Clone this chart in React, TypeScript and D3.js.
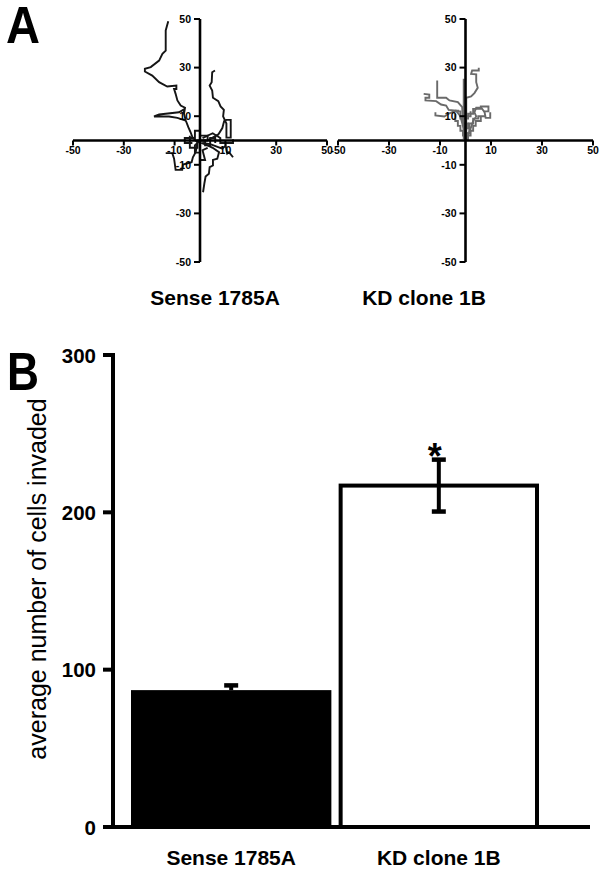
import React from "react";
import * as d3 from "d3";

// ---------- Panel A data (x, y in µm-like track units) ----------
const axisTicksA = [-50, -30, -10, 10, 30, 50];

const senseTracks: [number, number][][] = [
  [[-1.1, -0.7], [-3.0, 1.4], [-3.7, 3.4], [-4.6, 5.5], [-5.6, 8.2], [-6.3, 11.0], [-5.9, 13.5], [-7.6, 14.4], [-8.9, 16.5], [-9.6, 19.2], [-10.2, 21.2], [-9.3, 21.2], [-9.3, 22.6], [-12.9, 22.2], [-16.1, 24.0], [-18.8, 26.7], [-21.7, 28.4], [-21.7, 29.5], [-19.4, 30.2], [-16.1, 32.9], [-14.8, 35.7], [-13.5, 37.0], [-13.5, 45.3], [-12.5, 49.1]],
  [[-5.6, 8.2], [-8.9, 9.3], [-12.2, 9.9], [-18.1, 9.9], [-16.1, 10.7], [-8.3, 11.6], [-6.3, 12.8], [-6.3, 11.0]],
  [[1.0, 0.0], [2.9, 0.0], [4.8, 1.1], [7.2, 2.5], [8.8, 5.1], [9.5, 8.0], [10.4, 8.5], [12.1, 8.5], [12.1, 1.2], [10.4, 1.2], [10.4, 7.0], [9.1, 9.9], [9.4, 12.6], [8.1, 14.0], [7.2, 16.2], [5.1, 17.6], [4.8, 20.6], [3.8, 22.6], [4.6, 24.0], [4.8, 28.1], [5.9, 28.8]],
  [[-1.1, -1.4], [-1.7, -4.8], [-2.8, -6.9], [-3.3, -8.9], [-6.7, -9.9], [-7.0, -12.1], [-9.6, -12.1], [-10.2, -7.5], [-10.9, -5.2], [-13.5, -5.2]],
  [[0.5, -1.0], [3.0, -2.0], [5.0, -3.0], [7.5, -4.8], [6.8, -7.5], [5.1, -8.0], [5.1, -10.3], [3.8, -11.0], [3.5, -13.7], [2.2, -14.8], [1.7, -17.8], [1.2, -21.3]],
  [[1.0, -1.0], [4.0, -1.5], [8.8, -3.4], [10.1, -2.1], [10.7, -5.4], [11.4, -4.8], [13.0, -6.9]],
  [[-4, 2], [-4, -3], [-1, -3], [-1, 0], [2, 0], [2, -2], [4, -2], [4, 1], [6, 1], [6, -1]],
  [[-3, -1], [-6, -1], [-6, 1], [-2, 1], [-2, 4], [0, 4], [0, 2], [3, 2], [3, 0]],
  [[0, 0], [-2, -2], [-2, -5], [0, -5], [0, -8], [2, -8], [1, -4], [3, -3]],
  [[1, 1], [5, 3], [8, 1], [8, -1], [13, -1], [13, 0.5]],
];

const kdTracks: [number, number][][] = [
  [[0, 0], [0.3, 3], [0.3, 9.6], [0.3, 17.6], [2.2, 18.1], [3.5, 19.5], [4.8, 21.7], [4.2, 24.0], [4.2, 27.2], [2.2, 27.4], [2.6, 28.8], [5.2, 28.8], [5.2, 29.9]],
  [[-0.7, 0.5], [-0.7, 25.4]],
  [[-11.1, 24.7], [-11.1, 17.6], [-7.6, 17.6], [-6.3, 16.5], [-3.0, 15.8], [-1.3, 13.7], [-1.1, 9.6], [-0.5, 5], [0, 1]],
  [[-16.4, 19.2], [-14.2, 18.9], [-14.2, 17.6], [-15.7, 17.6], [-15.7, 16.5], [-11.5, 16.2], [-9.6, 14.8], [-7.6, 14.4], [-6.6, 12.6], [-3.7, 12.3], [-2, 10], [-1, 6], [0, 2]],
  [[-11.8, 11.6], [-11.8, 10.3], [-8.3, 9.9], [-6.3, 11.2], [-3.9, 12.3], [-2.5, 12.3]],
  [[9.7, 11.6], [9.7, 9.3], [7.9, 9.3], [7.5, 11.6], [6.2, 13.5], [4.2, 13.5], [3.5, 11.6], [4.2, 9.9], [3, 8], [2, 5], [1, 2], [0.5, 0]],
  [[-4, 11], [-4, 8], [-3, 8], [-3, 6], [-2, 6], [-2, 4], [-1, 4], [-1, 2], [0, 2], [0, 0]],
  [[6, 10], [6, 8], [4, 8], [4, 6], [3, 6], [3, 4], [2, 4], [2, 2], [1, 2], [1, 0]],
  [[2, 12], [2, 10], [-1, 10], [-1, 7], [1, 7], [1, 5], [-0.5, 5], [-0.5, 3], [0.5, 3], [0.5, 0.5]],
  [[8, 10], [5, 10], [5, 9], [3, 9], [3, 7], [1.5, 7], [1.5, 3], [0, 3]],
  [[-5, 12], [-2, 12], [-2, 9], [1, 9], [1, 11], [3, 11], [3, 13], [6, 13], [6, 14], [9, 14], [9, 12], [7, 12]],
];

const panelALabels = ["Sense 1785A", "KD clone 1B"];

// ---------- Panel B data ----------
const categories = ["Sense 1785A", "KD clone 1B"];
const means = [87, 217];
const sems = [3, 16.5];
const significant = [false, true];
const ticksB = [0, 100, 200, 300];
const yLabelB = "average number of cells invaded";

const FONT = "'Liberation Sans', Arial, Helvetica, sans-serif";

function TrackPlot({ x0, x1, tracks, color }: { x0: number; x1: number; tracks: [number, number][][]; color: string }) {
  const x = d3.scaleLinear().domain([-50, 50]).range([x0, x1]);
  const y = d3.scaleLinear().domain([-50, 50]).range([262, 19]);
  const line = d3.line<[number, number]>().x((d) => x(d[0])).y((d) => y(d[1]));
  return (
    <g>
      {tracks.map((t, i) => (
        <path key={i} d={line(t) || ""} fill="none" stroke={color} strokeWidth={1.9} strokeLinejoin="miter" />
      ))}
      {/* x axis */}
      <line x1={x(-50)} x2={x(50)} y1={y(0)} y2={y(0)} stroke="#000" strokeWidth={2.6} />
      {axisTicksA.map((t) => (
        <g key={"x" + t}>
          <line x1={x(t)} x2={x(t)} y1={y(0)} y2={y(0) + 5} stroke="#000" strokeWidth={2} />
          <text x={x(t)} y={y(0) + 13} fontSize={10.5} fontWeight="bold" textAnchor="middle" fontFamily={FONT}>
            {t}
          </text>
        </g>
      ))}
      {/* y axis */}
      <line x1={x(0)} x2={x(0)} y1={y(-50)} y2={y(50)} stroke="#000" strokeWidth={2.6} />
      {axisTicksA.map((t) => (
        <g key={"y" + t}>
          <line x1={x(0) - 6} x2={x(0)} y1={y(t)} y2={y(t)} stroke="#000" strokeWidth={2} />
          <text x={x(0) - 9} y={y(t) + 3.7} fontSize={10.5} fontWeight="bold" textAnchor="end" fontFamily={FONT}>
            {t}
          </text>
        </g>
      ))}
    </g>
  );
}

export default function App() {
  const yB = d3.scaleLinear().domain([0, 300]).range([827, 355]);
  const xB = d3.scaleBand<string>().domain(categories).range([131, 539]).paddingInner(0.035);
  const bw = xB.bandwidth();
  return (
    <svg width={600} height={881} style={{ position: "absolute", left: 0, top: 0, background: "#fff" }} fontFamily={FONT}>
      <rect width={600} height={881} fill="#fff" />
      {/* Panel A */}
      <text x={6} y={43} fontSize={52} fontWeight="bold" textLength={34} lengthAdjust="spacingAndGlyphs">A</text>
      <TrackPlot x0={73} x1={327} tracks={senseTracks} color="#151515" />
      <TrackPlot x0={338} x1={593} tracks={kdTracks} color="#6a6a6a" />
      <text x={215} y={305} fontSize={21} fontWeight="bold" textAnchor="middle">{panelALabels[0]}</text>
      <text x={424} y={305} fontSize={21} fontWeight="bold" textAnchor="middle">{panelALabels[1]}</text>

      {/* Panel B */}
      <text x={7} y={390} fontSize={54} fontWeight="bold" textLength={32} lengthAdjust="spacingAndGlyphs">B</text>
      {categories.map((c, i) => {
        const bx = xB(c) as number;
        const cx = bx + bw / 2;
        const top = yB(means[i]);
        const hi = yB(means[i] + sems[i]);
        const lo = yB(means[i] - sems[i]);
        return (
          <g key={c}>
            {i === 0 ? (
              <rect x={bx} y={top} width={bw} height={yB(0) - top} fill="#000" />
            ) : (
              <rect x={bx + 2} y={top} width={bw - 4} height={yB(0) - top} fill="#fff" stroke="#000" strokeWidth={4} />
            )}
            <line x1={cx} x2={cx} y1={i === 0 ? top : lo} y2={hi} stroke="#000" strokeWidth={4} />
            <line x1={cx - 7} x2={cx + 7} y1={hi} y2={hi} stroke="#000" strokeWidth={4.5} />
            {i !== 0 && <line x1={cx - 7} x2={cx + 7} y1={lo} y2={lo} stroke="#000" strokeWidth={4.5} />}
            {significant[i] && (
              <text x={cx - 4} y={hi + 9} fontSize={36} fontWeight="bold" textAnchor="middle">*</text>
            )}
            <text x={cx} y={865} fontSize={21} fontWeight="bold" textAnchor="middle">{c}</text>
          </g>
        );
      })}
      {/* axes */}
      <line x1={113} x2={113} y1={yB(300) - 2} y2={yB(0)} stroke="#000" strokeWidth={4} />
      <line x1={103} x2={590} y1={yB(0)} y2={yB(0)} stroke="#000" strokeWidth={4} />
      {ticksB.map((t) => (
        <g key={t}>
          <line x1={103} x2={113} y1={yB(t)} y2={yB(t)} stroke="#000" strokeWidth={4} />
          <text x={96} y={yB(t) + 7.5} fontSize={20.5} fontWeight="bold" textAnchor="end">{t}</text>
        </g>
      ))}
      <text transform={`translate(46,579) rotate(-90)`} fontSize={25} textAnchor="middle">
        {yLabelB}
      </text>
    </svg>
  );
}
